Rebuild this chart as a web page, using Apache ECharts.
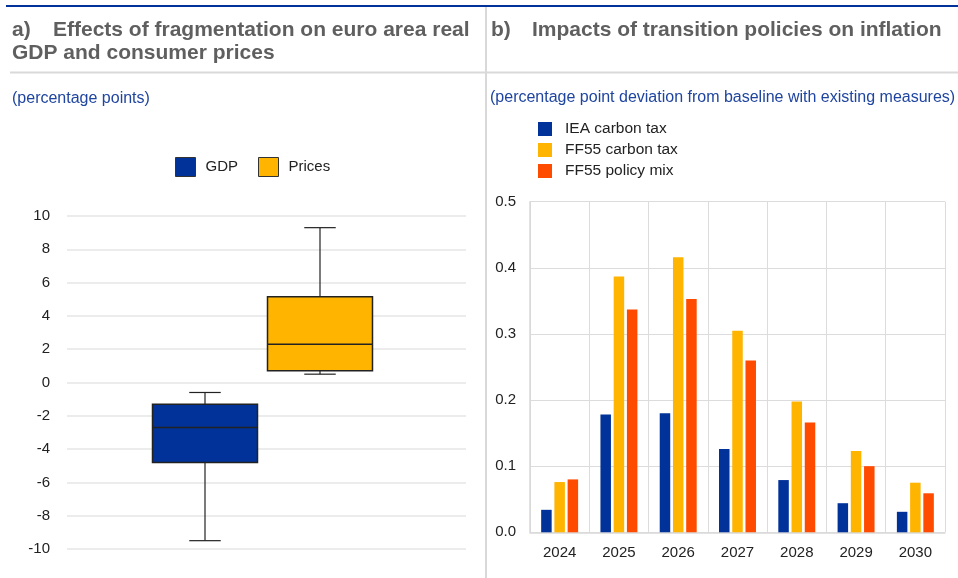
<!DOCTYPE html>
<html>
<head>
<meta charset="utf-8">
<script src="https://cdn.jsdelivr.net/npm/echarts@6/dist/echarts.min.js"></script>
<style>
html,body{margin:0;padding:0;background:#fff;}
#chart{width:958px;height:578px;}
</style>
</head>
<body>
<div id="chart"></div>
<script>
// ---- Panel a data ----
var boxCategories = ['GDP', 'Prices'];
// [min, Q1, median, Q3, max]
var gdpBox = [-9.5, -4.8, -2.7, -1.3, -0.6];
var pricesBox = [0.5, 0.7, 2.3, 5.15, 9.3];
var boxTicks = [-10, -8, -6, -4, -2, 0, 2, 4, 6, 8, 10];

// ---- Panel b data ----
var years = ['2024', '2025', '2026', '2027', '2028', '2029', '2030'];
var ieaCarbonTax = [0.034, 0.178, 0.180, 0.126, 0.079, 0.044, 0.031];
var ff55CarbonTax = [0.076, 0.387, 0.416, 0.305, 0.198, 0.123, 0.075];
var ff55PolicyMix = [0.080, 0.337, 0.353, 0.260, 0.166, 0.100, 0.059];
var barTicks = [0.0, 0.1, 0.2, 0.3, 0.4, 0.5];

var FONT = 'Liberation Sans, Arial, sans-serif';
var BLUE = '#003299', YELLOW = '#FFB400', RED = '#FF4B00';
var TITLE_COLOR = '#5f5f5f', SUB_COLOR = '#1f45a0';

function boxRender(params, api) {
  var xi = api.value(0);
  var p = [];
  for (var i = 1; i <= 5; i++) p.push(api.coord([xi, api.value(i)]));
  var cx = p[0][0];
  var bw = api.size([1, 0])[0] * 0.913;
  var cap = bw * 0.30;
  var ln = {stroke: '#222', lineWidth: 1.2};
  return {
    type: 'group',
    children: [
      {type: 'line', shape: {x1: cx, y1: p[4][1], x2: cx, y2: p[3][1]}, style: ln},
      {type: 'line', shape: {x1: cx, y1: p[0][1], x2: cx, y2: p[1][1]}, style: ln},
      {type: 'line', shape: {x1: cx - cap / 2, y1: p[4][1], x2: cx + cap / 2, y2: p[4][1]}, style: ln},
      {type: 'line', shape: {x1: cx - cap / 2, y1: p[0][1], x2: cx + cap / 2, y2: p[0][1]}, style: ln},
      {type: 'rect', shape: {x: cx - bw / 2, y: p[3][1], width: bw, height: p[1][1] - p[3][1]},
        style: {fill: api.visual('color'), stroke: '#222', lineWidth: 1.5}},
      {type: 'line', shape: {x1: cx - bw / 2, y1: p[2][1], x2: cx + bw / 2, y2: p[2][1]}, style: {stroke: '#222', lineWidth: 1.5}}
    ]
  };
}

function txt(x, y, text, font, color) {
  return {type: 'text', silent: true,
    style: {x: x, y: y, text: text, font: font, fill: color, textVerticalAlign: 'middle', textAlign: 'left'}};
}

var titleFont = 'bold 21px ' + FONT;
var subFont = '16px ' + FONT;

var chart = echarts.init(document.getElementById('chart'), null, {renderer: 'canvas'});
var option = {
  animation: false,
  textStyle: {fontFamily: FONT},
  graphic: [
    {type: 'line', shape: {x1: 6, y1: 6, x2: 958, y2: 6}, style: {stroke: BLUE, lineWidth: 2}, silent: true},
    {type: 'line', shape: {x1: 10, y1: 72.5, x2: 958, y2: 72.5}, style: {stroke: '#d9d9d9', lineWidth: 2}, silent: true},
    {type: 'line', shape: {x1: 486, y1: 7, x2: 486, y2: 578}, style: {stroke: '#d9d9d9', lineWidth: 2}, silent: true},
    txt(12, 30.5, 'a)', titleFont, TITLE_COLOR),
    txt(53, 30.5, 'Effects of fragmentation on euro area real', titleFont, TITLE_COLOR),
    txt(12, 53, 'GDP and consumer prices', titleFont, TITLE_COLOR),
    txt(491, 30.5, 'b)', titleFont, TITLE_COLOR),
    txt(532, 30.5, 'Impacts of transition policies on inflation', titleFont, TITLE_COLOR),
    txt(12, 98.5, '(percentage points)', subFont, SUB_COLOR),
    txt(490, 97.5, '(percentage point deviation from baseline with existing measures)', subFont, SUB_COLOR)
  ],
  legend: [
    {
      data: ['GDP', 'Prices'], left: 175, top: 157, orient: 'horizontal', padding: 0,
      itemWidth: 20, itemHeight: 19, itemGap: 20, icon: 'rect',
      itemStyle: {borderColor: '#333', borderWidth: 1},
      textStyle: {fontSize: 15, color: '#222', fontFamily: FONT, padding: [0, 0, 0, 5]}
    },
    {
      data: ['IEA carbon tax', 'FF55 carbon tax', 'FF55 policy mix'], left: 538, top: 121, orient: 'vertical', padding: 0,
      itemWidth: 14, itemHeight: 14, itemGap: 5, icon: 'rect',
      textStyle: {fontSize: 15.5, color: '#222', fontFamily: FONT, padding: [0, 0, 0, 8]}
    }
  ],
  grid: [
    {left: 67, right: 492, top: 216, bottom: 29},
    {left: 147.5, width: 230, top: 216, bottom: 29},
    {left: 530, right: 13, top: 201.7, bottom: 45.7}
  ],
  xAxis: [
    {gridIndex: 0, type: 'value', show: false, min: 0, max: 1},
    {gridIndex: 1, type: 'category', data: boxCategories, show: false},
    {gridIndex: 2, type: 'category', data: years,
      axisLine: {show: true, lineStyle: {color: '#d9d9d9', width: 1.5}},
      axisTick: {show: false},
      splitLine: {show: true, interval: 0, lineStyle: {color: '#dcdcdc', width: 1}},
      axisLabel: {fontSize: 15, color: '#222', margin: 13, fontFamily: FONT}}
  ],
  yAxis: [
    {gridIndex: 0, type: 'value', min: boxTicks[0], max: boxTicks[boxTicks.length - 1], interval: 2,
      axisLine: {show: false}, axisTick: {show: false},
      splitLine: {show: true, lineStyle: {color: '#e6e6e6', width: 1.5}},
      axisLabel: {fontSize: 15, color: '#222', margin: 17, fontFamily: FONT}},
    {gridIndex: 1, type: 'value', min: boxTicks[0], max: boxTicks[boxTicks.length - 1], show: false, splitLine: {show: false}},
    {gridIndex: 2, type: 'value', min: barTicks[0], max: barTicks[barTicks.length - 1], interval: 0.1,
      axisLine: {show: true, lineStyle: {color: '#d9d9d9', width: 1.5}}, axisTick: {show: false},
      splitLine: {show: true, lineStyle: {color: '#dcdcdc', width: 1}},
      axisLabel: {fontSize: 15, color: '#222', margin: 14, fontFamily: FONT,
        formatter: function (v) { return v.toFixed(1); }}}
  ],
  series: [
    {name: 'GDP', type: 'custom', xAxisIndex: 1, yAxisIndex: 1, color: BLUE,
      renderItem: boxRender, data: [[0].concat(gdpBox)], encode: {x: 0, y: [1, 2, 3, 4, 5]}},
    {name: 'Prices', type: 'custom', xAxisIndex: 1, yAxisIndex: 1, color: YELLOW,
      renderItem: boxRender, data: [[1].concat(pricesBox)], encode: {x: 0, y: [1, 2, 3, 4, 5]}},
    {name: 'IEA carbon tax', type: 'bar', xAxisIndex: 2, yAxisIndex: 2, data: ieaCarbonTax,
      itemStyle: {color: BLUE}, barWidth: 10.5, barGap: '26%'},
    {name: 'FF55 carbon tax', type: 'bar', xAxisIndex: 2, yAxisIndex: 2, data: ff55CarbonTax,
      itemStyle: {color: YELLOW}, barWidth: 10.5, barGap: '26%'},
    {name: 'FF55 policy mix', type: 'bar', xAxisIndex: 2, yAxisIndex: 2, data: ff55PolicyMix,
      itemStyle: {color: RED}, barWidth: 10.5, barGap: '26%'}
  ]
};
chart.setOption(option);
</script>
</body>
</html>
